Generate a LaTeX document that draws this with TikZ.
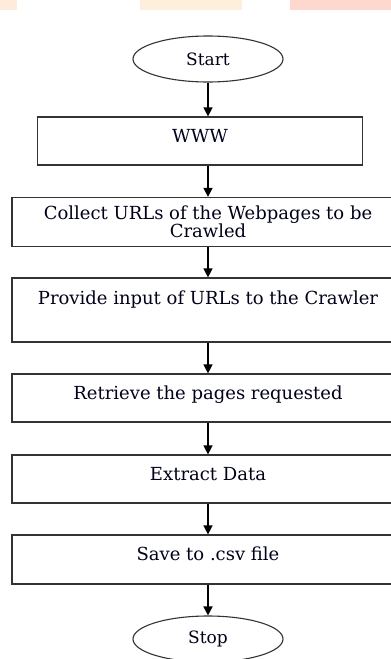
\documentclass[tikz,border=0pt]{standalone}
\usepackage{fontspec}
\setmainfont{DejaVu Serif}
\usetikzlibrary{shapes.geometric,arrows.meta}
\definecolor{peachA}{HTML}{FEEBDC}
\definecolor{peachB}{HTML}{FEEEDC}
\definecolor{pinkC}{HTML}{FED7CF}
\tikzset{
	stepbox/.style={draw=black!80, line width=1.2pt, minimum width=392pt, minimum height=48pt, inner sep=0pt, font=\fontsize{18}{17.7}\selectfont, text=black!90!blue},
	onerow/.style={text height=25pt, text depth=23pt},
	terminal/.style={ellipse, draw=black!80, line width=1.1pt, minimum width=150pt, minimum height=46pt, inner sep=0pt, font=\fontsize{17}{18}\selectfont, text=black!90!blue},
	flow/.style={-{Triangle[width=9pt,length=9pt]}, line width=1.4pt}
}
\begin{document}
\begin{tikzpicture}[x=1pt,y=1pt]
	\useasboundingbox (0,0) rectangle (391,-659);
	% strip along the top edge
	\fill[peachA] (0,0) rectangle (17,-10);
	\fill[peachB] (140,0) rectangle (242,-10);
	\fill[pinkC] (290,0) rectangle (391,-10);
	\node (Start)	at (208, -59)	[terminal]	{Start};
	\node (WWW)	at (200,-141)	[stepbox, onerow, minimum width=325pt]	{WWW};
	\node (Collect)	at (208,-222)	[stepbox, minimum height=49pt, align=center]	{Collect URLs of the Webpages to be\\Crawled};
	\node (Provide)	at (208,-310)	[stepbox, text height=26pt, text depth=38pt]	{Provide input of URLs to the Crawler};
	\node (Retrieve)	at (208,-398)	[stepbox, onerow]	{Retrieve the pages requested};
	\node (Extract)	at (208,-479)	[stepbox, onerow]	{Extract Data};
	\node (Save)	at (208,-559.5)	[stepbox, text height=25pt, text depth=24pt]	{Save to .csv file};
	\node (Stop)	at (208,-639)	[terminal]	{Stop};
	\draw[flow] (Start) -- (Start |- WWW.north);
	\draw[flow] (WWW.south -| Start) -- (Collect);
	\draw[flow] (Collect) -- (Provide);
	\draw[flow] (Provide) -- (Retrieve);
	\draw[flow] (Retrieve) -- (Extract);
	\draw[flow] (Extract) -- (Save);
	\draw[flow] (Save) -- (Stop);
\end{tikzpicture}
\end{document}
